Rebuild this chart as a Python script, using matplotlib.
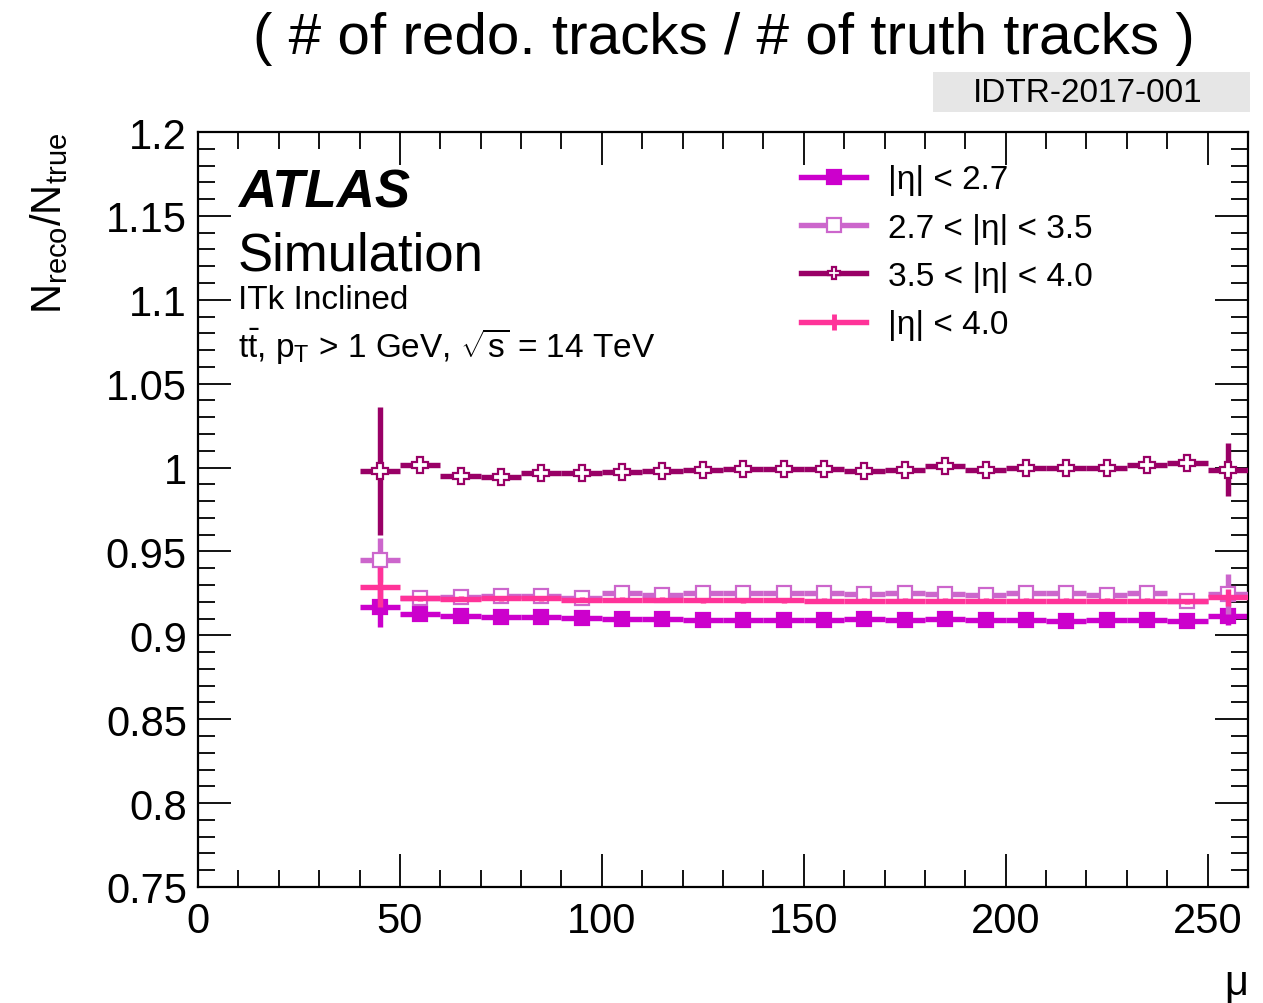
import matplotlib
matplotlib.use("Agg")
import matplotlib.pyplot as plt
from matplotlib.patches import Rectangle
from matplotlib.lines import Line2D
from matplotlib.ticker import MultipleLocator, FuncFormatter
import numpy as np

plt.rcParams['font.family'] = ['Liberation Sans', 'DejaVu Sans']
plt.rcParams['mathtext.fontset'] = 'custom'
plt.rcParams['mathtext.rm'] = 'Liberation Sans'
plt.rcParams['mathtext.it'] = 'Liberation Sans:italic'
plt.rcParams['mathtext.bf'] = 'Liberation Sans:bold'

# ---- data ----
mu_centers = [45, 55, 65, 75, 85, 95, 105, 115, 125, 135, 145,
              155, 165, 175, 185, 195, 205, 215, 225, 235, 245, 255]
bin_half_width = 5

eff_eta27 = [0.9167, 0.9127, 0.9113, 0.9107, 0.9107, 0.9101, 0.9097, 0.9097, 0.9094, 0.9094, 0.9094,
             0.9094, 0.9097, 0.9090, 0.9097, 0.9090, 0.9090, 0.9086, 0.9094, 0.9090, 0.9084, 0.9113]
err_eta27 = [0.012, 0.0025, 0.002, 0.002, 0.002, 0.002, 0.002, 0.002, 0.002, 0.002, 0.002,
             0.002, 0.002, 0.002, 0.002, 0.002, 0.002, 0.002, 0.002, 0.002, 0.0025, 0.005]

eff_eta27_35 = [0.9450, 0.9223, 0.9228, 0.9232, 0.9232, 0.9223, 0.9253, 0.9243, 0.9250, 0.9250, 0.9250,
                0.9250, 0.9246, 0.9252, 0.9246, 0.9242, 0.9252, 0.9250, 0.9242, 0.9250, 0.9206, 0.9246]
err_eta27_35 = [0.013, 0.002, 0.002, 0.002, 0.002, 0.002, 0.002, 0.002, 0.002, 0.002, 0.002,
                0.002, 0.002, 0.002, 0.002, 0.002, 0.002, 0.002, 0.002, 0.002, 0.0025, 0.012]

eff_eta35_40 = [0.9980, 1.0015, 0.9950, 0.9944, 0.9967, 0.9966, 0.9975, 0.9980, 0.9985, 0.9990, 0.9991,
                0.9991, 0.9980, 0.9988, 1.0007, 0.9988, 0.9997, 0.9997, 0.9997, 1.0017, 1.0030, 0.9988]
err_eta35_40 = [0.038, 0.004, 0.002, 0.002, 0.002, 0.002, 0.002, 0.002, 0.002, 0.002, 0.002,
                0.002, 0.002, 0.002, 0.002, 0.002, 0.002, 0.002, 0.002, 0.002, 0.0035, 0.016]

eff_eta40 = [0.9287, 0.9221, 0.9217, 0.9220, 0.9220, 0.9213, 0.9213, 0.9212, 0.9210, 0.9210, 0.9210,
             0.9207, 0.9207, 0.9207, 0.9207, 0.9207, 0.9207, 0.9207, 0.9207, 0.9207, 0.9202, 0.9226]
err_eta40 = [0.012, 0.0015, 0.0015, 0.0015, 0.0015, 0.0015, 0.0015, 0.0015, 0.0015, 0.0015, 0.0015,
             0.0015, 0.0015, 0.0015, 0.0015, 0.0015, 0.0015, 0.0015, 0.0015, 0.0015, 0.0015, 0.005]

labels = ["|η| < 2.7", "2.7 < |η| < 3.5", "3.5 < |η| < 4.0", "|η| < 4.0"]
colors = ["#CC00CC", "#CC66CC", "#990066", "#FF3399"]

# ---- figure ----
fig = plt.figure(figsize=(12.63, 10.04), dpi=100)
ax = fig.add_axes([198/1263, 116/1004, 1050/1263, 755/1004])

lw = 3.9
series = [
    (eff_eta27, err_eta27, colors[0], 's', colors[0], 10, 2),
    (eff_eta35_40, err_eta35_40, colors[2], 'P', 'white', 11, 3),
    (eff_eta27_35, err_eta27_35, colors[1], 's', 'white', 10, 4),
    (eff_eta40, err_eta40, colors[3], 'none', colors[3], 0, 5),
]
for y, e, c, m, fc, ms, z in series:
    ax.errorbar(mu_centers, y, xerr=bin_half_width, yerr=e, fmt='none',
                ecolor=c, elinewidth=lw, capsize=0, zorder=z)
    if m != 'none':
        ax.plot(mu_centers, y, linestyle='none', marker=m, markersize=ms,
                markerfacecolor=fc, markeredgecolor=c, markeredgewidth=1.6, zorder=z + 0.5)

ax.set_xlim(0, 260)
ax.set_ylim(0.75, 1.2)
ax.xaxis.set_major_locator(MultipleLocator(50))
ax.xaxis.set_minor_locator(MultipleLocator(10))
ax.yaxis.set_major_locator(MultipleLocator(0.05))
ax.yaxis.set_minor_locator(MultipleLocator(0.01))
ax.yaxis.set_major_formatter(FuncFormatter(lambda v, p: f"{v:.2f}".rstrip('0').rstrip('.')))
ax.tick_params(which='both', direction='in', top=True, right=True, width=1.3)
ax.tick_params(which='major', length=24, labelsize=30, pad=8)
ax.tick_params(which='minor', length=12)
ax.tick_params(axis='x', which='major', pad=10)
for sp in ax.spines.values():
    sp.set_linewidth(1.6)

ax.set_ylabel(r"N$_{\rm reco}$/N$_{\rm true}$", fontsize=30, loc='top', labelpad=26)
ax.set_xlabel("μ", fontsize=30, loc='right', labelpad=16)

# ATLAS labels
ax.text(0.038, 0.92, "ATLAS", transform=ax.transAxes, fontsize=38,
        fontweight='bold', fontstyle='italic', va='center', ha='left')
ax.text(0.038, 0.837, "Simulation", transform=ax.transAxes, fontsize=38,
        va='center', ha='left')
ax.text(0.038, 0.778, "ITk Inclined", transform=ax.transAxes, fontsize=24,
        va='center', ha='left')
ax.text(0.038, 0.718, r"t$\bar{\rm t}$, p$_{\rm T}$ > 1 GeV, $\sqrt{\rm s}$ = 14 TeV",
        transform=ax.transAxes, fontsize=24, va='center', ha='left')

# legend
handles = []
markers = ['s', 's', 'P', '|']
mfcs = [colors[0], 'white', 'white', colors[3]]
msizes = [10, 10, 9, 12]
for c, m, fc, ms in zip(colors, markers, mfcs, msizes):
    handles.append(Line2D([0], [0], color=c, lw=lw, marker=m, markersize=ms,
                          markerfacecolor=fc, markeredgecolor=c,
                          markeredgewidth=1.6 if m != '|' else 3.5))
ax.legend(handles, labels, loc='upper left', bbox_to_anchor=(0.562, 0.975),
          frameon=False, fontsize=24, handlelength=1.95, handletextpad=0.65,
          labelspacing=0.52, borderaxespad=0)

# title and ID box
fig.text(0.573, 0.961, "( # of redo. tracks / # of truth tracks )", fontsize=42,
         ha='center', va='center')
fig.patches.append(Rectangle((933/1263, 1 - 113/1004), 317/1263, 40/1004,
                             transform=fig.transFigure, facecolor='#e6e6e6',
                             edgecolor='none', zorder=0))
fig.text(1088/1263, 1 - 94/1004, "IDTR-2017-001", fontsize=24, ha='center', va='center')

fig.savefig("out.png", dpi=100)
